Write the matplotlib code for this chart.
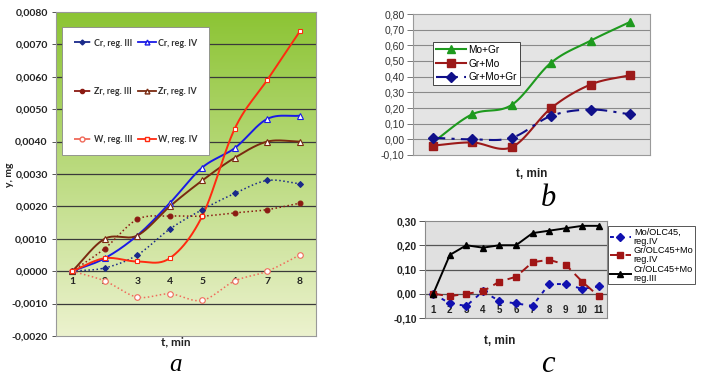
import numpy as np
import matplotlib
matplotlib.use("Agg")
import matplotlib.pyplot as plt
from matplotlib.lines import Line2D

# ---- data ----
t_a = [1, 2, 3, 4, 5, 6, 7, 8]
cr_iii = [0.0, 0.0001, 0.0005, 0.0013, 0.0019, 0.0024, 0.0028, 0.0027]
cr_iv = [0.0, 0.0004, 0.0011, 0.0021, 0.0032, 0.0038, 0.0047, 0.0048]
zr_iii = [0.0, 0.0007, 0.0016, 0.0017, 0.0017, 0.0018, 0.0019, 0.0021]
zr_iv = [0.0, 0.0010, 0.0011, 0.0020, 0.0028, 0.0035, 0.0040, 0.0040]
w_iii = [0.0, -0.0003, -0.0008, -0.0007, -0.0009, -0.0003, 0.0, 0.0005]
w_iv = [0.0, 0.0004, 0.0003, 0.0004, 0.0017, 0.0044, 0.0059, 0.0074]
yticks_a = [-0.002, -0.001, 0.0, 0.001, 0.002, 0.003, 0.004, 0.005, 0.006, 0.007, 0.008]

t_b = [1, 2, 3, 4, 5, 6]
mo_gr = [-0.02, 0.16, 0.22, 0.49, 0.63, 0.75]
gr_mo = [-0.04, -0.02, -0.05, 0.20, 0.35, 0.41]
gr_mo_gr = [0.01, 0.0, 0.01, 0.15, 0.19, 0.16]
yticks_b = [-0.1, 0.0, 0.1, 0.2, 0.3, 0.4, 0.5, 0.6, 0.7, 0.8]

t_c = [1, 2, 3, 4, 5, 6, 7, 8, 9, 10, 11]
mo_olc = [0.0, -0.04, -0.05, 0.01, -0.03, -0.04, -0.05, 0.04, 0.04, 0.02, 0.03]
gr_olc = [0.0, -0.01, 0.0, 0.01, 0.05, 0.07, 0.13, 0.14, 0.12, 0.05, -0.01]
cr_olc = [0.0, 0.16, 0.20, 0.19, 0.20, 0.20, 0.25, 0.26, 0.27, 0.28, 0.28]
yticks_c = [-0.1, 0.0, 0.1, 0.2, 0.3]


def smooth(x, y, n=24):
    # catmull-rom style curve, like excel "smoothed line"
    x = np.asarray(x, float)
    y = np.asarray(y, float)
    px = np.concatenate([[2 * x[0] - x[1]], x, [2 * x[-1] - x[-2]]])
    py = np.concatenate([[2 * y[0] - y[1]], y, [2 * y[-1] - y[-2]]])
    xs, ys = [], []
    s = np.linspace(0, 1, n)
    for i in range(1, len(px) - 2):
        for p, out in ((px, xs), (py, ys)):
            p0, p1, p2, p3 = p[i - 1], p[i], p[i + 1], p[i + 2]
            out.extend(0.5 * ((2 * p1) + (-p0 + p2) * s
                              + (2 * p0 - 5 * p1 + 4 * p2 - p3) * s ** 2
                              + (-p0 + 3 * p1 - 3 * p2 + p3) * s ** 3))
    return np.array(xs), np.array(ys)


W, H = 701, 377
fig = plt.figure(figsize=(W / 100, H / 100), dpi=100)
fig.patch.set_facecolor("white")


def px_axes(left, top, right, bottom):
    return fig.add_axes([left / W, 1 - bottom / H, (right - left) / W, (bottom - top) / H])


fa = "Lato"

# ---------------- panel a ----------------
ax = px_axes(56, 12, 316, 336)
ax.set_xlim(0.5, 8.5)
ax.set_ylim(-0.002, 0.008)
grad = np.linspace(0, 1, 256).reshape(-1, 1)
top_c = np.array([140, 196, 52]) / 255
bot_c = np.array([236, 242, 206]) / 255
img = top_c * (1 - grad[..., None]) + bot_c * grad[..., None]
img = img[:, 0, :][:, None, :]
ax.imshow(img, extent=[0, 1, 0, 1], transform=ax.transAxes, aspect="auto", zorder=0)
ax.set_yticks(yticks_a)
ax.set_yticklabels([("%.4f" % v).replace(".", ",") for v in yticks_a],
                   fontsize=7.5, fontweight="bold", family=fa, color="#222222")
ax.set_xticks([])
for v in yticks_a[1:-1]:
    ax.axhline(v, color="#3a3a3a", lw=0.9, zorder=1)
for s in ax.spines.values():
    s.set_color("#999999")
    s.set_linewidth(0.8)
ax.tick_params(axis="y", length=3, width=0.7, color="#555555", pad=3)
for t in t_a:
    ax.text(t, -0.00017, str(t), ha="center", va="top", fontsize=7.5,
            fontweight="bold", family=fa, color="#222222")

series_a = [
    (cr_iii, "Cr, reg. III", "#1a2a8a", ":", "D", "#1a2a8a", 3),
    (zr_iii, "Zr, reg. III", "#8b1a12", ":", "o", "#8b1a12", 3.5),
    (w_iii, "W, reg. III", "#f06a5a", ":", "o", "white", 4),
    (cr_iv, "Cr, reg. IV", "#1a1ae6", "-", "^", "white", 4),
    (zr_iv, "Zr, reg. IV", "#7a2a10", "-", "^", "white", 4),
    (w_iv, "W, reg. IV", "#ff2a10", "-", "s", "white", 3.5),
]
handles = []
for vals, lab, col, ls, mk, mfc, ms in series_a:
    sx, sy = smooth(t_a, vals)
    ax.plot(sx, sy, color=col, ls=ls, lw=1.4 if ls == "-" else 1.1, zorder=3)
    ax.plot(t_a, vals, ls="none", marker=mk, ms=ms, mfc=mfc, mec=col, mew=0.8, zorder=4)
    handles.append(Line2D([], [], color=col, ls="--" if ls == ":" else "-", lw=1.3,
                          marker=mk, ms=ms - 0.5, mfc=mfc, mec=col, label=lab))
leg = ax.legend(handles=handles, ncol=2, loc="upper left",
                bbox_to_anchor=(6 / 260, 1 - 15 / 324), labelspacing=4.4,
                columnspacing=0.6, handlelength=2.0, handletextpad=0.3,
                borderpad=1.3, borderaxespad=0, fancybox=False, framealpha=1,
                prop={"family": fa, "weight": "bold", "size": 6.4})
leg.get_frame().set_edgecolor("#888888")
leg.get_frame().set_linewidth(0.6)
for txt in leg.get_texts():
    txt.set_color("#333333")
fig.text(9 / W, 1 - 175 / H, "y, mg", rotation=90, ha="center", va="center",
         fontsize=7.5, fontweight="bold", family=fa, color="#222222")
fig.text(176 / W, 1 - 342 / H, "t, min", ha="center", va="center",
         fontsize=8.5, fontweight="bold", family=fa, color="#222222")
fig.text(176 / W, 1 - 376 / H, "a", ha="center", va="bottom", fontsize=18,
         style="italic", family="Liberation Serif")

# ---------------- panel b ----------------
fb = "Liberation Sans"
bx = px_axes(413, 14, 650, 155)
bx.set_facecolor("#e4e4e4")
bx.set_xlim(0.5, 6.5)
bx.set_ylim(-0.1, 0.8)
bx.set_yticks(yticks_b)
bx.set_yticklabels([("%.2f" % v).replace(".", ",") for v in yticks_b],
                   fontsize=7.5, family=fb, color="#333333")
bx.set_xticks([])
for v in yticks_b[1:-1]:
    bx.axhline(v, color="#8a8a8a", lw=0.8, zorder=1)
for s in bx.spines.values():
    s.set_color("#9a9a9a")
    s.set_linewidth(0.8)
bx.tick_params(axis="y", length=4, width=0.7, color="#777777", pad=2)

series_b = [
    (mo_gr, "Mo+Gr", "#1e9a1e", "-", "^", 6),
    (gr_mo, "Gr+Mo", "#9c1a1a", "-", "s", 5.5),
    (gr_mo_gr, "Gr+Mo+Gr", "#10108a", (0, (6, 3, 1.5, 3)), "D", 5),
]
for vals, lab, col, ls, mk, ms in series_b:
    sx, sy = smooth(t_b, vals)
    bx.plot(sx, sy, color=col, ls=ls, lw=1.5, zorder=3)
    bx.plot(t_b, vals, ls="none", marker=mk, ms=ms, color=col, zorder=4, label=lab)
hb = [Line2D([], [], color=c, ls=l, lw=1.5, marker=m, ms=s, label=lab)
      for _, lab, c, l, m, s in series_b]
lb = bx.legend(handles=hb, loc="upper left", bbox_to_anchor=(20 / 237, 1 - 28 / 141),
               fancybox=False, framealpha=1, handlelength=3.0, handletextpad=0.2,
               labelspacing=0.35, borderpad=0.3, borderaxespad=0,
               prop={"family": fb, "size": 7.3})
lb.get_frame().set_edgecolor("#444444")
lb.get_frame().set_linewidth(0.7)
fig.text(532 / W, 1 - 174 / H, "t, min", ha="center", va="center",
         fontsize=8.5, fontweight="bold", family=fb, color="#222222")
fig.text(548 / W, 1 - 199 / H, "b", ha="center", va="center", fontsize=22,
         style="italic", family="Liberation Serif")

# ---------------- panel c ----------------
cx = px_axes(425, 221, 607, 318)
cx.set_facecolor("#e0e0e0")
cx.set_xlim(0.5, 11.5)
cx.set_ylim(-0.1, 0.3)
cx.set_yticks(yticks_c)
cx.set_yticklabels([("%.2f" % v).replace(".", ",") for v in yticks_c],
                   fontsize=7.5, fontweight="bold", family=fb, color="#222222")
cx.set_xticks([])
for v in yticks_c[1:-1]:
    cx.axhline(v, color="#555555", lw=0.9, zorder=1)
for s in cx.spines.values():
    s.set_color("#8a8a8a")
    s.set_linewidth(0.8)
cx.tick_params(axis="y", length=4, width=0.7, color="#555555", pad=2)
for t in t_c:
    cx.text(t, -0.065, str(t), ha="center", va="center", fontsize=7,
            fontweight="bold", family=fb, color="#222222", zorder=2)

series_c = [
    (mo_olc, "Mo/OLC45,\nreg.IV", "#1010b0", (0, (2, 3)), "D", 4.5),
    (gr_olc, "Gr/OLC45+Mo\nreg.IV", "#a01515", (0, (5, 3)), "s", 5),
    (cr_olc, "Cr/OLC45+Mo\nreg.III", "#000000", "-", "^", 5),
]
hc = []
for vals, lab, col, ls, mk, ms in series_c:
    cx.plot(t_c, vals, color=col, ls=ls, lw=1.4, marker=mk, ms=ms, zorder=3)
    hc.append(Line2D([], [], color=col, ls=ls, lw=1.4, marker=mk, ms=ms, label=lab))
lc = cx.legend(handles=hc, loc="upper left", bbox_to_anchor=(1.006, 0.95),
               fancybox=False, framealpha=1, handlelength=2.3, handletextpad=0.3,
               labelspacing=0.05, borderpad=0.2, borderaxespad=0,
               prop={"family": fb, "size": 6.6})
lc.get_frame().set_edgecolor("#555555")
lc.get_frame().set_linewidth(0.7)
for txt in lc.get_texts():
    txt.set_linespacing(1.0)
fig.text(500 / W, 1 - 341 / H, "t, min", ha="center", va="center",
         fontsize=8.5, fontweight="bold", family=fb, color="#222222")
fig.text(548 / W, 1 - 364 / H, "c", ha="center", va="center", fontsize=22,
         style="italic", family="Liberation Serif")

fig.savefig("out.png", dpi=100)
